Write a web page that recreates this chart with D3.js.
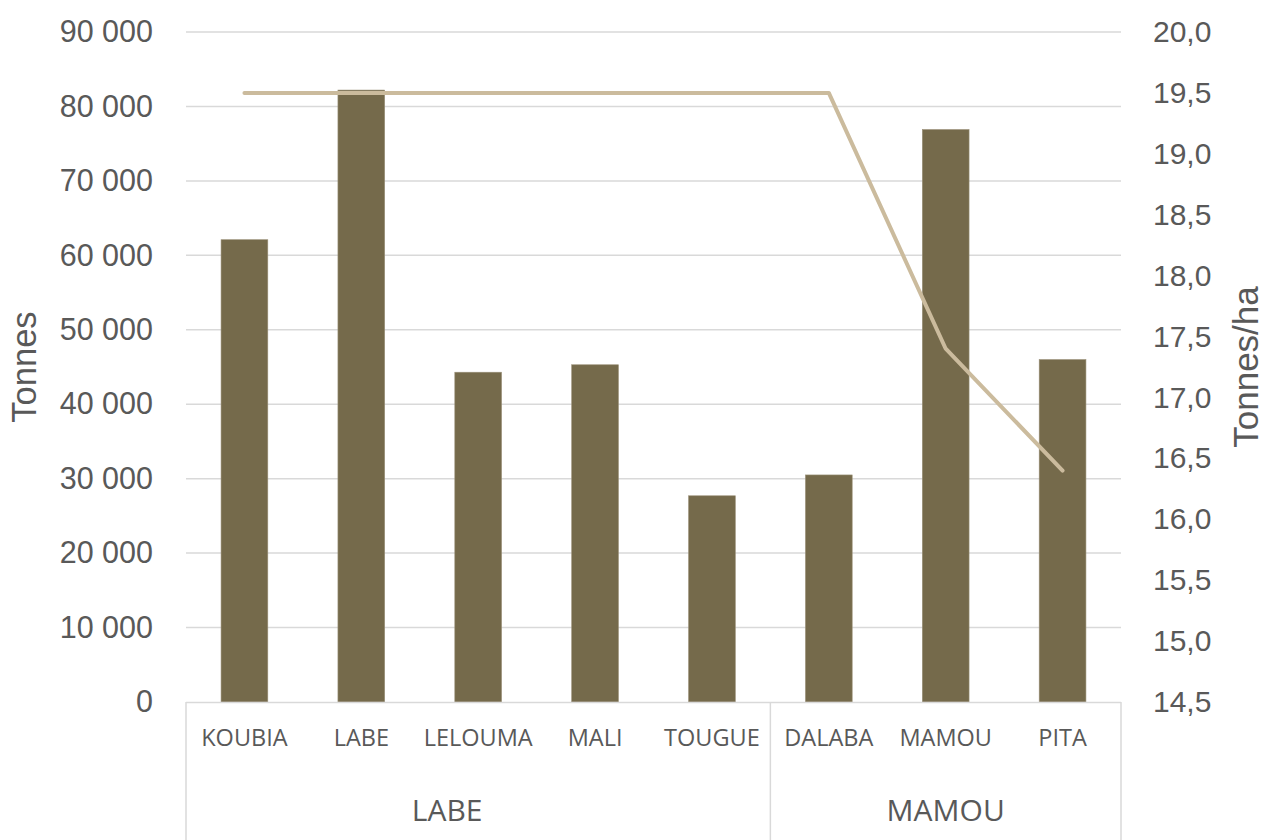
<!DOCTYPE html>
<html>
<head>
<meta charset="utf-8">
<script src="https://cdn.jsdelivr.net/npm/d3@7"></script>
<style>
  body { margin: 0; background: #fff; }
  svg { display: block; }
</style>
</head>
<body>
<div id="chart"></div>
<script>
// data
var categories = ["KOUBIA", "LABE", "LELOUMA", "MALI", "TOUGUE", "DALABA", "MAMOU", "PITA"];
var regions = ["LABE", "LABE", "LABE", "LABE", "LABE", "MAMOU", "MAMOU", "MAMOU"];
var production = [62100, 82200, 44300, 45300, 27700, 30500, 76900, 46000];
var yieldHa = [19.5, 19.5, 19.5, 19.5, 19.5, 19.5, 17.4, 16.4];
var leftTicks = [0, 10000, 20000, 30000, 40000, 50000, 60000, 70000, 80000, 90000];
var rightTicks = [14.5, 15, 15.5, 16, 16.5, 17, 17.5, 18, 18.5, 19, 19.5, 20];

var width = 1272, height = 840;
var m = { left: 186, right: 151, top: 32, bottom: 138 };
var innerW = width - m.left - m.right;
var innerH = height - m.top - m.bottom;

var barColor = "#756a4b";
var lineColor = "#cbbb9d";
var gridColor = "#d9d9d9";
var textColor = "#595959";

var svg = d3.select("#chart").append("svg")
	.attr("width", width)
	.attr("height", height);

var g = svg.append("g")
	.attr("transform", "translate(" + m.left + "," + m.top + ")");

// scales
var x = d3.scaleBand().domain(categories).range([0, innerW]).paddingInner(0.6).paddingOuter(0.3);
var band = d3.scaleBand().domain(categories).range([0, innerW]);
var yL = d3.scaleLinear().domain([0, 90000]).range([innerH, 0]);
var yR = d3.scaleLinear().domain([14.5, 20]).range([innerH, 0]);

var fmt = function(d) { return d3.format(",")(d).replace(/,/g, " "); };
var fmtR = function(d) { return d3.format(".1f")(d).replace(".", ","); };

// grid
g.append("g").selectAll("line")
	.data(leftTicks.filter(function(d) { return d > 0; }))
	.enter().append("line")
	.attr("x1", 0).attr("x2", innerW)
	.attr("y1", function(d) { return yL(d); })
	.attr("y2", function(d) { return yL(d); })
	.attr("stroke", gridColor)
	.attr("stroke-width", 1.5);

// left axis
var axL = g.append("g")
	.call(d3.axisLeft(yL).tickValues(leftTicks).tickFormat(fmt).tickSize(0).tickPadding(33));
axL.select(".domain").remove();
axL.selectAll("text")
	.attr("fill", textColor)
	.style("font-family", "'Liberation Sans', Arial, sans-serif")
	.style("font-size", "30.5px");

// right axis
var axR = g.append("g")
	.attr("transform", "translate(" + innerW + ",0)")
	.call(d3.axisRight(yR).tickValues(rightTicks).tickFormat(fmtR).tickSize(0).tickPadding(32));
axR.select(".domain").remove();
axR.selectAll("text")
	.attr("fill", textColor)
	.style("font-family", "'Liberation Sans', Arial, sans-serif")
	.style("font-size", "30px");

// bars
g.append("g").selectAll("rect")
	.data(categories)
	.enter().append("rect")
	.attr("x", function(d) { return x(d); })
	.attr("y", function(d, i) { return yL(production[i]); })
	.attr("width", x.bandwidth())
	.attr("height", function(d, i) { return innerH - yL(production[i]); })
	.attr("fill", barColor)
	.attr("stroke", "#9a9078")
	.attr("stroke-width", 0.6);

// line
var line = d3.line()
	.x(function(d, i) { return band(categories[i]) + band.bandwidth() / 2; })
	.y(function(d) { return yR(d); });

g.append("path")
	.datum(yieldHa)
	.attr("d", line)
	.attr("fill", "none")
	.attr("stroke", lineColor)
	.attr("stroke-width", 4)
	.attr("stroke-linecap", "round")
	.attr("stroke-linejoin", "round");

// category axis (two levels)
var axisG = g.append("g").attr("transform", "translate(0," + innerH + ")");
axisG.append("line")
	.attr("x1", 0).attr("x2", innerW)
	.attr("y1", 0.5).attr("y2", 0.5)
	.attr("stroke", gridColor).attr("stroke-width", 1.5);

var groups = [];
regions.forEach(function(r, i) {
	var last = groups[groups.length - 1];
	if (last && last.name === r) last.end = i;
	else groups.push({ name: r, start: i, end: i });
});

var bounds = [0];
groups.forEach(function(gr) { bounds.push(band(categories[gr.end]) + band.bandwidth()); });

axisG.selectAll(".sep")
	.data(bounds)
	.enter().append("line")
	.attr("class", "sep")
	.attr("x1", function(d) { return d; })
	.attr("x2", function(d) { return d; })
	.attr("y1", 0).attr("y2", m.bottom)
	.attr("stroke", gridColor).attr("stroke-width", 1.5);

axisG.selectAll(".cat")
	.data(categories)
	.enter().append("text")
	.attr("class", "cat")
	.attr("x", function(d) { return band(d) + band.bandwidth() / 2; })
	.attr("y", 36)
	.attr("dy", "0.35em")
	.attr("text-anchor", "middle")
	.attr("fill", textColor)
	.style("font-family", "'Open Sans', sans-serif")
	.style("font-size", "23.5px")
	.text(function(d) { return d; });

// excel puts the wider group label a bit left of centre
axisG.selectAll(".grp")
	.data(groups)
	.enter().append("text")
	.attr("class", "grp")
	.attr("x", function(d, i) {
		var a = band(categories[d.start]);
		var b = band(categories[d.end]) + band.bandwidth();
		return (a + b) / 2 - (i === 0 ? 31 : 0);
	})
	.attr("y", 108)
	.attr("dy", "0.35em")
	.attr("text-anchor", "middle")
	.attr("fill", textColor)
	.style("font-family", "'Open Sans', sans-serif")
	.style("font-size", "30px")
	.text(function(d) { return d.name; });

// axis titles
svg.append("text")
	.attr("transform", "translate(24," + (m.top + innerH / 2) + ") rotate(-90)")
	.attr("dy", "0.35em")
	.attr("text-anchor", "middle")
	.attr("fill", textColor)
	.style("font-family", "'Liberation Sans', Arial, sans-serif")
	.style("font-size", "34.5px")
	.text("Tonnes");

svg.append("text")
	.attr("transform", "translate(1246," + (m.top + innerH / 2) + ") rotate(-90)")
	.attr("dy", "0.35em")
	.attr("text-anchor", "middle")
	.attr("fill", textColor)
	.style("font-family", "'Liberation Sans', Arial, sans-serif")
	.style("font-size", "35px")
	.text("Tonnes/ha");
</script>
</body>
</html>
